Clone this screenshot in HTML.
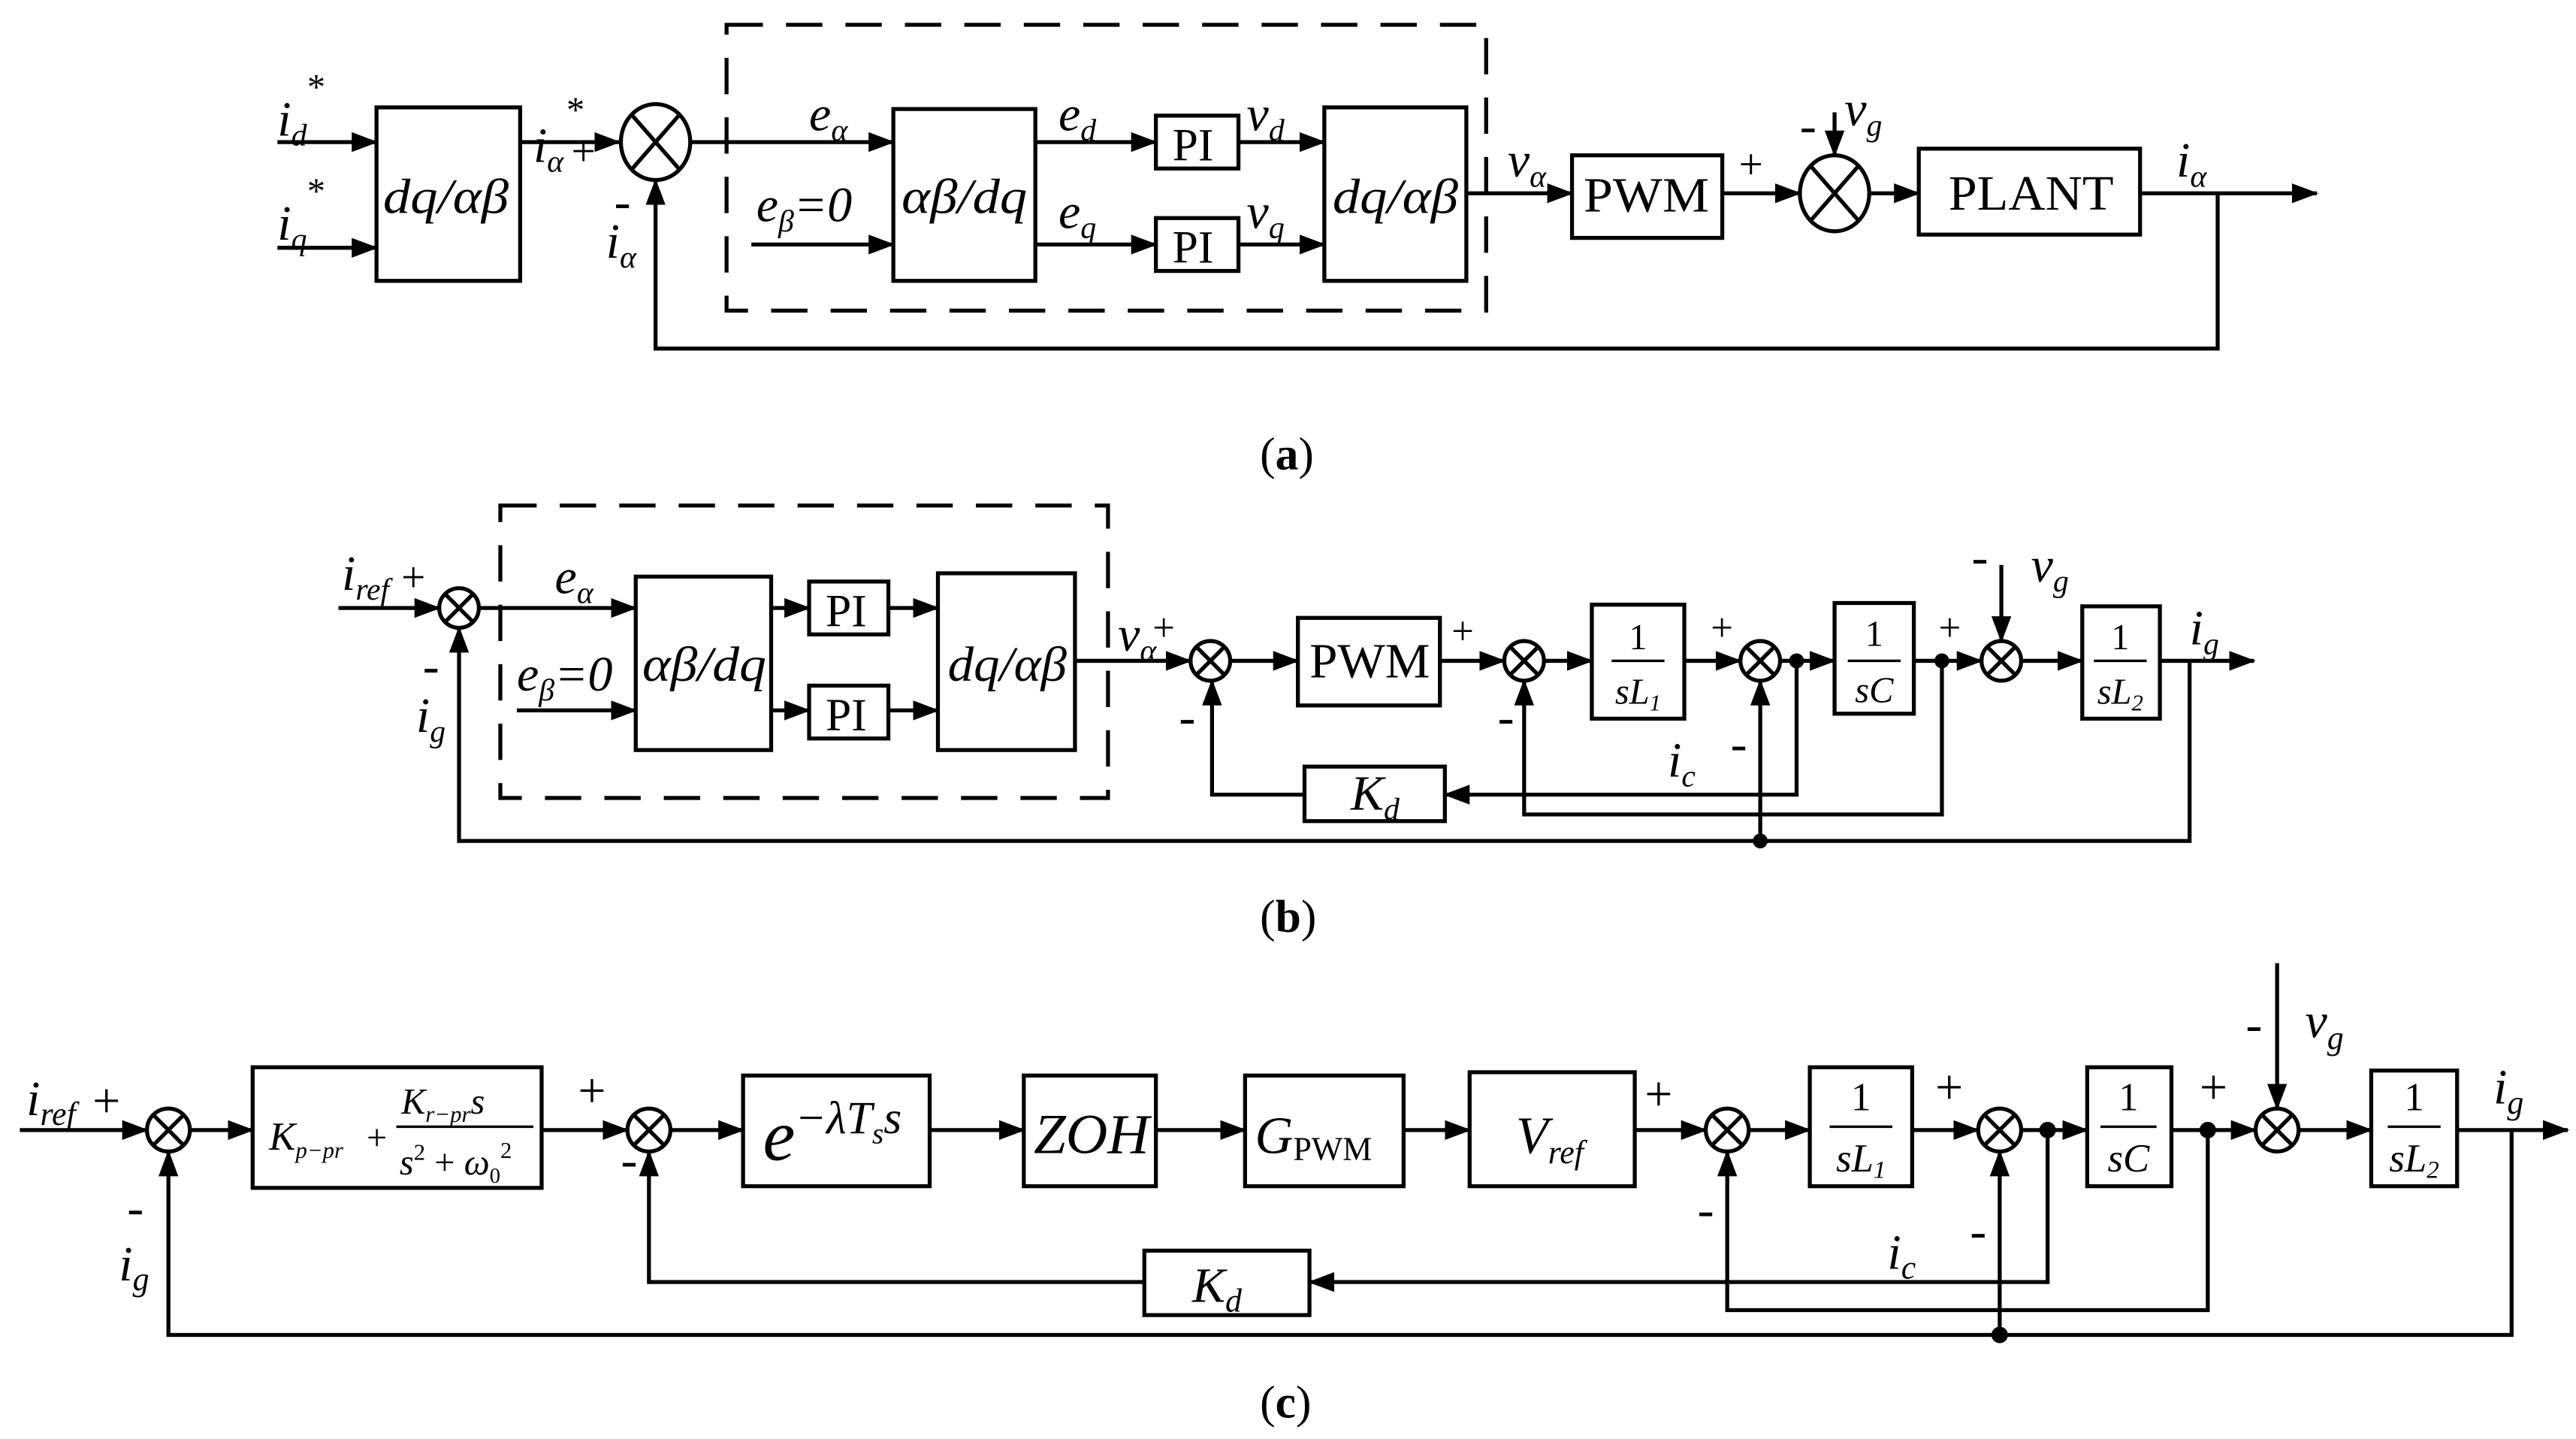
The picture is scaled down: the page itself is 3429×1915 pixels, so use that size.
<!DOCTYPE html>
<html><head><meta charset="utf-8"><style>
html,body{margin:0;padding:0;background:#fff}
svg{display:block}
text{font-family:"Liberation Serif",serif;fill:#000}
.i{font-style:italic}
</style></head><body>
<svg width="3429" height="1915" viewBox="0 0 1560 871" preserveAspectRatio="none" xmlns="http://www.w3.org/2000/svg">
<defs>
<marker id="a" markerUnits="userSpaceOnUse" markerWidth="16" markerHeight="12" refX="15" refY="6" orient="auto"><path d="M0,0 L16,6 L0,12 Z" fill="#000"/></marker>
</defs>
<g fill="none" stroke="#000" stroke-width="2.4">
<!-- (a) -->
<line x1="168" y1="86" x2="228" y2="86" marker-end="url(#a)"/>
<line x1="168" y1="150" x2="228" y2="150" marker-end="url(#a)"/>
<rect x="228" y="65" width="87" height="105"/>
<line x1="315" y1="86" x2="375" y2="86" marker-end="url(#a)"/>
<ellipse cx="397" cy="86" rx="21" ry="23"/>
<line x1="383" y1="70" x2="411" y2="102"/><line x1="411" y1="70" x2="383" y2="102"/>
<line x1="418" y1="86" x2="541" y2="86" marker-end="url(#a)"/>
<rect x="440" y="15" width="460" height="173" stroke-dasharray="22,14"/>
<line x1="455" y1="148" x2="541" y2="148" marker-end="url(#a)"/>
<rect x="541" y="66" width="86" height="104"/>
<line x1="627" y1="86" x2="700" y2="86" marker-end="url(#a)"/>
<line x1="627" y1="148" x2="700" y2="148" marker-end="url(#a)"/>
<rect x="700" y="70" width="50" height="32"/>
<rect x="700" y="132" width="50" height="32"/>
<line x1="750" y1="86" x2="802" y2="86" marker-end="url(#a)"/>
<line x1="750" y1="148" x2="802" y2="148" marker-end="url(#a)"/>
<rect x="802" y="65" width="86" height="105"/>
<line x1="888" y1="117" x2="952" y2="117" marker-end="url(#a)"/>
<rect x="952" y="94" width="91" height="50"/>
<line x1="1043" y1="117" x2="1090" y2="117" marker-end="url(#a)"/>
<ellipse cx="1111" cy="117" rx="21" ry="23"/>
<line x1="1097" y1="101" x2="1125" y2="133"/><line x1="1125" y1="101" x2="1097" y2="133"/>
<line x1="1111" y1="68" x2="1111" y2="94" marker-end="url(#a)"/>
<line x1="1132" y1="117" x2="1162" y2="117" marker-end="url(#a)"/>
<rect x="1162" y="90" width="134" height="52"/>
<line x1="1296" y1="117" x2="1403" y2="117" marker-end="url(#a)"/>
<polyline points="1343,117 1343,211 397,211 397,109" marker-end="url(#a)"/>

<!-- (b) -->
<line x1="205" y1="368" x2="266" y2="368" marker-end="url(#a)"/>
<circle cx="278" cy="368" r="12"/>
<line x1="270" y1="360" x2="286" y2="376"/><line x1="286" y1="360" x2="270" y2="376"/>
<line x1="290" y1="368" x2="385" y2="368" marker-end="url(#a)"/>
<rect x="303" y="306" width="368" height="177" stroke-dasharray="22,14"/>
<line x1="313" y1="430" x2="385" y2="430" marker-end="url(#a)"/>
<rect x="385" y="349" width="82" height="105"/>
<line x1="467" y1="368" x2="490" y2="368" marker-end="url(#a)"/>
<line x1="467" y1="430" x2="490" y2="430" marker-end="url(#a)"/>
<rect x="490" y="352" width="48" height="32"/>
<rect x="490" y="415" width="48" height="32"/>
<line x1="538" y1="368" x2="568" y2="368" marker-end="url(#a)"/>
<line x1="538" y1="430" x2="568" y2="430" marker-end="url(#a)"/>
<rect x="568" y="347" width="83" height="107"/>
<line x1="651" y1="400" x2="721" y2="400" marker-end="url(#a)"/>
<circle cx="733" cy="400" r="12"/>
<line x1="725" y1="392" x2="741" y2="408"/><line x1="741" y1="392" x2="725" y2="408"/>
<line x1="745" y1="400" x2="786" y2="400" marker-end="url(#a)"/>
<rect x="786" y="374" width="86" height="53"/>
<line x1="872" y1="400" x2="911" y2="400" marker-end="url(#a)"/>
<circle cx="923" cy="400" r="12"/>
<line x1="915" y1="392" x2="931" y2="408"/><line x1="931" y1="392" x2="915" y2="408"/>
<line x1="935" y1="400" x2="964" y2="400" marker-end="url(#a)"/>
<rect x="964" y="366" width="56" height="69"/>
<line x1="1020" y1="400" x2="1054" y2="400" marker-end="url(#a)"/>
<circle cx="1066" cy="400" r="12"/>
<line x1="1058" y1="392" x2="1074" y2="408"/><line x1="1074" y1="392" x2="1058" y2="408"/>
<line x1="1078" y1="400" x2="1111" y2="400" marker-end="url(#a)"/>
<rect x="1111" y="365" width="48" height="67"/>
<line x1="1159" y1="400" x2="1200" y2="400" marker-end="url(#a)"/>
<circle cx="1212" cy="400" r="12"/>
<line x1="1204" y1="392" x2="1220" y2="408"/><line x1="1220" y1="392" x2="1204" y2="408"/>
<line x1="1212" y1="342" x2="1212" y2="388" marker-end="url(#a)"/>
<line x1="1224" y1="400" x2="1261" y2="400" marker-end="url(#a)"/>
<rect x="1261" y="367" width="47" height="68"/>
<line x1="1308" y1="400" x2="1365" y2="400" marker-end="url(#a)"/>
<rect x="790" y="464" width="85" height="33"/>
<polyline points="1088,400 1088,481 875,481" marker-end="url(#a)"/>
<polyline points="790,481 734,481 734,412" marker-end="url(#a)"/>
<polyline points="1176,400 1176,493 923,493 923,412" marker-end="url(#a)"/>
<polyline points="1326,400 1326,509 278,509 278,380" marker-end="url(#a)"/>
<line x1="1066" y1="509" x2="1066" y2="412" marker-end="url(#a)"/>

<!-- (c) -->
<line x1="12" y1="684" x2="89" y2="684" marker-end="url(#a)"/>
<circle cx="102" cy="684" r="13"/>
<line x1="93" y1="675" x2="111" y2="693"/><line x1="111" y1="675" x2="93" y2="693"/>
<line x1="115" y1="684" x2="153" y2="684" marker-end="url(#a)"/>
<rect x="153" y="646" width="175" height="73"/>
<line x1="328" y1="684" x2="380" y2="684" marker-end="url(#a)"/>
<circle cx="393" cy="684" r="13"/>
<line x1="384" y1="675" x2="402" y2="693"/><line x1="402" y1="675" x2="384" y2="693"/>
<line x1="406" y1="684" x2="450" y2="684" marker-end="url(#a)"/>
<rect x="450" y="651" width="113" height="67"/>
<line x1="563" y1="684" x2="620" y2="684" marker-end="url(#a)"/>
<rect x="620" y="651" width="80" height="67"/>
<line x1="700" y1="684" x2="754" y2="684" marker-end="url(#a)"/>
<rect x="754" y="651" width="96" height="67"/>
<line x1="850" y1="684" x2="890" y2="684" marker-end="url(#a)"/>
<rect x="890" y="649" width="100" height="69"/>
<line x1="990" y1="684" x2="1033" y2="684" marker-end="url(#a)"/>
<circle cx="1046" cy="684" r="13"/>
<line x1="1037" y1="675" x2="1055" y2="693"/><line x1="1055" y1="675" x2="1037" y2="693"/>
<line x1="1059" y1="684" x2="1096" y2="684" marker-end="url(#a)"/>
<rect x="1096" y="646" width="62" height="72"/>
<line x1="1158" y1="684" x2="1198" y2="684" marker-end="url(#a)"/>
<circle cx="1211" cy="684" r="13"/>
<line x1="1202" y1="675" x2="1220" y2="693"/><line x1="1220" y1="675" x2="1202" y2="693"/>
<line x1="1224" y1="684" x2="1264" y2="684" marker-end="url(#a)"/>
<rect x="1264" y="646" width="51" height="72"/>
<line x1="1315" y1="684" x2="1366" y2="684" marker-end="url(#a)"/>
<circle cx="1379" cy="684" r="13"/>
<line x1="1370" y1="675" x2="1388" y2="693"/><line x1="1388" y1="675" x2="1370" y2="693"/>
<line x1="1379" y1="583" x2="1379" y2="671" marker-end="url(#a)"/>
<line x1="1392" y1="684" x2="1436" y2="684" marker-end="url(#a)"/>
<rect x="1436" y="648" width="52" height="70"/>
<line x1="1488" y1="684" x2="1555" y2="684" marker-end="url(#a)"/>
<rect x="693" y="757" width="100" height="39"/>
<polyline points="1240,684 1240,776 793,776" marker-end="url(#a)"/>
<polyline points="693,776 393,776 393,697" marker-end="url(#a)"/>
<polyline points="1337,684 1337,793 1046,793 1046,697" marker-end="url(#a)"/>
<polyline points="1521,684 1521,808 102,808 102,697" marker-end="url(#a)"/>
<line x1="1211" y1="808" x2="1211" y2="697" marker-end="url(#a)"/>
</g>
<g fill="#000">
<circle cx="1088" cy="400" r="4.5"/><circle cx="1176" cy="400" r="4.5"/><circle cx="1066" cy="509" r="4.5"/>
<circle cx="1240" cy="684" r="5"/><circle cx="1337" cy="684" r="5"/><circle cx="1211" cy="808" r="5"/>
</g>

<!-- labels (a) -->
<g font-size="30">
<text x="168" y="82" class="i">i<tspan font-size="19" dy="6">d</tspan></text><text x="186" y="60" font-size="22">*</text>
<text x="168" y="145" class="i">i<tspan font-size="19" dy="6">q</tspan></text><text x="186" y="123" font-size="22">*</text>
<text x="232" y="129" class="i" textLength="76" lengthAdjust="spacingAndGlyphs">dq/αβ</text>
<text x="323" y="98" class="i">i<tspan font-size="19" dy="6">α</tspan></text><text x="343" y="74" font-size="22">*</text>
<text x="346" y="100" font-size="26">+</text>
<text x="372" y="132">-</text>
<text x="367" y="156" class="i">i<tspan font-size="19" dy="6">α</tspan></text>
<text x="490" y="79" class="i">e<tspan font-size="19" dy="6">α</tspan></text>
<text x="458" y="134" class="i">e<tspan font-size="19" dy="6">β</tspan><tspan dy="-6">=0</tspan></text>
<text x="546" y="129" class="i" textLength="76" lengthAdjust="spacingAndGlyphs">αβ/dq</text>
<text x="641" y="79" class="i">e<tspan font-size="19" dy="6">d</tspan></text>
<text x="641" y="138" class="i">e<tspan font-size="19" dy="6">q</tspan></text>
<text x="710" y="97" font-size="28">PI</text>
<text x="710" y="159" font-size="28">PI</text>
<text x="755" y="79" class="i">v<tspan font-size="19" dy="6">d</tspan></text>
<text x="755" y="138" class="i">v<tspan font-size="19" dy="6">q</tspan></text>
<text x="807" y="129" class="i" textLength="76" lengthAdjust="spacingAndGlyphs">dq/αβ</text>
<text x="913" y="107" class="i">v<tspan font-size="19" dy="6">α</tspan></text>
<text x="959" y="128" textLength="76" lengthAdjust="spacingAndGlyphs">PWM</text>
<text x="1053" y="108" font-size="26">+</text>
<text x="1090" y="86">-</text>
<text x="1117" y="76" class="i">v<tspan font-size="19" dy="6">g</tspan></text>
<text x="1180" y="127" textLength="100" lengthAdjust="spacingAndGlyphs">PLANT</text>
<text x="1318" y="107" class="i">i<tspan font-size="19" dy="6">α</tspan></text>
<text x="763" y="284" font-size="28">(<tspan font-weight="bold">a</tspan>)</text>

<!-- labels (b) -->
<text x="207" y="357" class="i">i<tspan font-size="19" dy="6">ref</tspan></text>
<text x="243" y="358" font-size="26">+</text>
<text x="256" y="413">-</text>
<text x="252" y="443" class="i">i<tspan font-size="19" dy="6">g</tspan></text>
<text x="336" y="359" class="i">e<tspan font-size="19" dy="6">α</tspan></text>
<text x="313" y="418" class="i">e<tspan font-size="19" dy="6">β</tspan><tspan dy="-6">=0</tspan></text>
<text x="389" y="412" class="i" textLength="75" lengthAdjust="spacingAndGlyphs">αβ/dq</text>
<text x="500" y="379" font-size="28">PI</text>
<text x="500" y="442" font-size="28">PI</text>
<text x="574" y="412" class="i" textLength="72" lengthAdjust="spacingAndGlyphs">dq/αβ</text>
<text x="677" y="394" class="i">v<tspan font-size="19" dy="6">α</tspan></text>
<text x="698" y="388" font-size="24">+</text>
<text x="714" y="444">-</text>
<text x="793" y="410" textLength="73" lengthAdjust="spacingAndGlyphs">PWM</text>
<text x="879" y="390" font-size="24">+</text>
<text x="907" y="444">-</text>
<text x="1036" y="388" font-size="24">+</text>
<text x="1048" y="460">-</text>
<text x="1174" y="388" font-size="24">+</text>
<text x="1194" y="347">-</text>
<text x="1230" y="352" class="i">v<tspan font-size="19" dy="6">g</tspan></text>
<text x="1010" y="470" class="i">i<tspan font-size="19" dy="6">c</tspan></text>
<text x="818" y="490" class="i">K<tspan font-size="19" dy="6">d</tspan></text>
<text x="1326" y="390" class="i">i<tspan font-size="19" dy="6">g</tspan></text>
<text x="763" y="564" font-size="28">(<tspan font-weight="bold">b</tspan>)</text>
</g>
<g font-size="22">
<text x="992" y="393" text-anchor="middle">1</text><line x1="976" y1="400" x2="1008" y2="400" stroke="#000" stroke-width="1.5"/><text x="992" y="426" text-anchor="middle" class="i">sL<tspan font-size="14" dy="4">1</tspan></text>
<text x="1135" y="391" text-anchor="middle">1</text><line x1="1119" y1="400" x2="1151" y2="400" stroke="#000" stroke-width="1.5"/><text x="1135" y="425" text-anchor="middle" class="i">sC</text>
<text x="1284" y="393" text-anchor="middle">1</text><line x1="1268" y1="400" x2="1300" y2="400" stroke="#000" stroke-width="1.5"/><text x="1284" y="426" text-anchor="middle" class="i">sL<tspan font-size="14" dy="4">2</tspan></text>
</g>

<!-- labels (c) -->
<g font-size="30">
<text x="16" y="675" class="i">i<tspan font-size="20" dy="6">ref</tspan></text>
<text x="56" y="676">+</text>
<text x="77" y="741">-</text>
<text x="72" y="775" class="i">i<tspan font-size="20" dy="6">g</tspan></text>
<text x="350" y="670">+</text>
<text x="376" y="712">-</text>
<text x="462" y="702" class="i" font-size="44">e<tspan font-size="28" dy="-16">−λT</tspan><tspan font-size="18" dy="6">s</tspan><tspan font-size="28" dy="-6">s</tspan></text>
<text x="626" y="698" class="i" font-size="34" textLength="70" lengthAdjust="spacingAndGlyphs">ZOH</text>
<text x="760" y="698" class="i" font-size="32">G<tspan font-size="20" dy="4" font-style="normal">PWM</tspan></text>
<text x="918" y="698" class="i" font-size="32">V<tspan font-size="20" dy="6">ref</tspan></text>
<text x="996" y="672">+</text>
<text x="1028" y="742">-</text>
<text x="1172" y="668">+</text>
<text x="1193" y="755">-</text>
<text x="1332" y="668">+</text>
<text x="1360" y="630">-</text>
<text x="1396" y="628" class="i">v<tspan font-size="20" dy="7">g</tspan></text>
<text x="1143" y="768" class="i">i<tspan font-size="20" dy="6">c</tspan></text>
<text x="722" y="788" class="i">K<tspan font-size="20" dy="6">d</tspan></text>
<text x="1510" y="668" class="i">i<tspan font-size="20" dy="6">g</tspan></text>
<text x="763" y="858" font-size="28">(<tspan font-weight="bold">c</tspan>)</text>
</g>
<g font-size="24">
<text x="1127" y="672" text-anchor="middle">1</text><line x1="1108" y1="682" x2="1146" y2="682" stroke="#000" stroke-width="1.5"/><text x="1127" y="709" text-anchor="middle" class="i">sL<tspan font-size="15" dy="4">1</tspan></text>
<text x="1289" y="672" text-anchor="middle">1</text><line x1="1272" y1="682" x2="1306" y2="682" stroke="#000" stroke-width="1.5"/><text x="1289" y="709" text-anchor="middle" class="i">sC</text>
<text x="1462" y="672" text-anchor="middle">1</text><line x1="1446" y1="682" x2="1478" y2="682" stroke="#000" stroke-width="1.5"/><text x="1462" y="709" text-anchor="middle" class="i">sL<tspan font-size="15" dy="4">2</tspan></text>
</g>
<g>
<text x="163" y="696" font-size="24" class="i">K<tspan font-size="14" dy="5">p−pr</tspan></text>
<text x="222" y="696" font-size="22">+</text>
<text x="243" y="674" font-size="22" class="i">K<tspan font-size="14" dy="5">r−pr</tspan><tspan font-size="22" dy="-5">s</tspan></text>
<line x1="240" y1="682" x2="323" y2="682" stroke="#000" stroke-width="1.5"/>
<text x="242" y="711" font-size="22" class="i">s<tspan font-size="14" dy="-9" font-style="normal">2</tspan><tspan dy="9" font-style="normal"> + </tspan>ω<tspan font-size="13" dy="5" font-style="normal">0</tspan><tspan font-size="14" dy="-15" font-style="normal">2</tspan></text>
</g>
</svg>
</body></html>
